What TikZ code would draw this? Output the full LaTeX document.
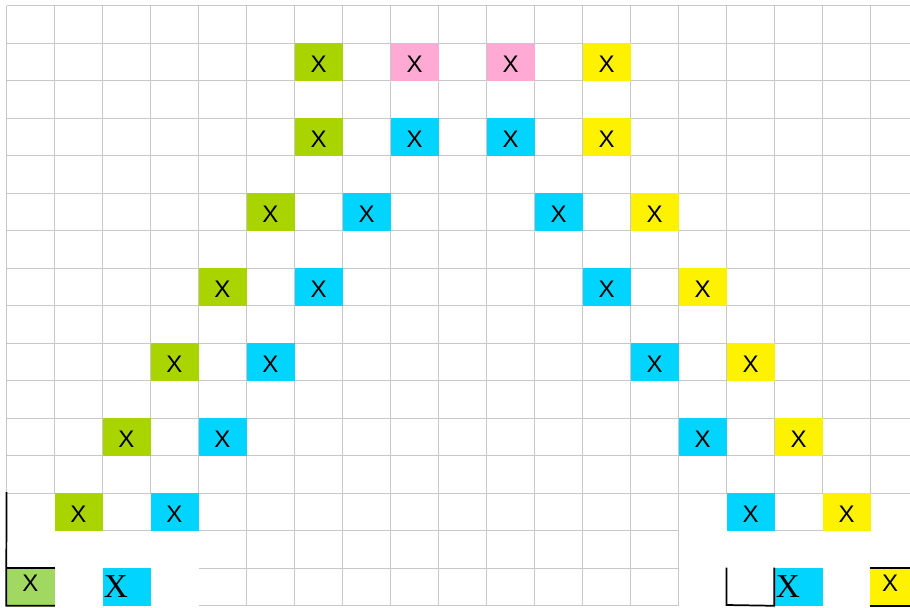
\documentclass[tikz,border=0pt]{standalone}
\usepackage{fontspec}
\setmainfont{Liberation Sans}
\newfontfamily\serifx{Liberation Serif}
\usetikzlibrary{positioning}
\definecolor{armgreen}{RGB}{170,212,0}
\definecolor{basegreen}{RGB}{160,216,98}
\definecolor{armcyan}{RGB}{0,212,255}
\definecolor{armyellow}{RGB}{255,242,0}
\definecolor{toppink}{RGB}{255,170,213}
\definecolor{gridgray}{RGB}{200,200,200}
\tikzset{
  xcell/.style={
    rectangle,
    minimum width=36pt,
    minimum height=28.125pt,
    inner sep=0pt,
    text height=15.5pt,
    text depth=0pt,
    font=\fontsize{18}{18}\selectfont
  },
  green cell/.style={xcell, fill=armgreen},
  cyan cell/.style={xcell, fill=armcyan},
  yellow cell/.style={xcell, fill=armyellow},
  pink cell/.style={xcell, fill=toppink},
  base cell/.style={
    xcell,
    text height=12.9pt,
    text depth=5.4pt
  },
  serif cell/.style={
    xcell,
    fill=armcyan,
    text width=34pt,
    align=left,
    text height=16.5pt,
    font=\serifx\fontsize{25}{25}\selectfont
  },
  grid line/.style={draw=gridgray, line width=0.75pt},
  border line/.style={draw=black, line width=1.3pt}
}

\begin{document}
\begin{tikzpicture}[x=0.75pt, y=-0.75pt]
  \useasboundingbox (0,0) rectangle (910,607);

  % Grid
  \foreach \r in {0,...,13}
    \draw[grid line] (6.5,5.5+37.5*\r) -- (910,5.5+37.5*\r);
  \foreach \c in {0,...,18}
    \draw[grid line] (6.5+48*\c,5.5) -- (6.5+48*\c,493);
  \foreach \r in {14,15,16}
    \draw[grid line] (198.5,5.5+37.5*\r) -- (679,5.5+37.5*\r);
  \foreach \c in {5,...,14}
    \draw[grid line] (6.5+48*\c,493) -- (6.5+48*\c,605.5);
  \draw[grid line] (102.5,530.5) -- (150.5,530.5);
  \draw[grid line] (774.5,530.5) -- (822.5,530.5);

  % Top row
  \node[green cell] (g1) at (318.5,61.75) {X};
  \node[pink cell] (p1) at (414.5,61.75) {X};
  \node[pink cell] (p2) at (510.5,61.75) {X};
  \node[yellow cell] (y1) at (606.5,61.75) {X};

  % Green arm
  \node[green cell] (g2) at (318.5,136.75) {X};
  \node[green cell] (g3) at (270.5,211.75) {X};
  \node[green cell] (g4) at (222.5,286.75) {X};
  \node[green cell] (g5) at (174.5,361.75) {X};
  \node[green cell] (g6) at (126.5,436.75) {X};
  \node[green cell] (g7) at (78.5,511.75) {X};
  \node[base cell, fill=basegreen] (g0) at (30.5,586.75) {X};

  % Inner cyan, left
  \node[cyan cell] (cl1) at (414.5,136.75) {X};
  \node[cyan cell] (cl2) at (366.5,211.75) {X};
  \node[cyan cell] (cl3) at (318.5,286.75) {X};
  \node[cyan cell] (cl4) at (270.5,361.75) {X};
  \node[cyan cell] (cl5) at (222.5,436.75) {X};
  \node[cyan cell] (cl6) at (174.5,511.75) {X};
  \node[serif cell] (cl7) at (126.5,586.75) {X};

  % Inner cyan, right
  \node[cyan cell] (cr1) at (510.5,136.75) {X};
  \node[cyan cell] (cr2) at (558.5,211.75) {X};
  \node[cyan cell] (cr3) at (606.5,286.75) {X};
  \node[cyan cell] (cr4) at (654.5,361.75) {X};
  \node[cyan cell] (cr5) at (702.5,436.75) {X};
  \node[cyan cell] (cr6) at (750.5,511.75) {X};
  \node[serif cell] (cr7) at (798.5,586.75) {X};

  % Yellow arm
  \node[yellow cell] (y2) at (606.5,136.75) {X};
  \node[yellow cell] (y3) at (654.5,211.75) {X};
  \node[yellow cell] (y4) at (702.5,286.75) {X};
  \node[yellow cell] (y5) at (750.5,361.75) {X};
  \node[yellow cell] (y6) at (798.5,436.75) {X};
  \node[yellow cell] (y7) at (846.5,511.75) {X};
  \node[base cell, fill=armyellow, minimum width=30pt] (y0) at (890,586.75) {X};

  % Black borders
  \coordinate (lefttop) at (6.5,492);
  \draw[border line] (lefttop) -- (g0.south west) -- (g0.south east);
  \draw[border line] (g0.north west) -- (g0.north east);
  \coordinate (ua) at (726.5,567.5);
  \coordinate (ub) at (726.5,605);
  \draw[border line] (ua) -- (ub) -- (cr7.south west) -- (cr7.north west);
  \draw[border line] (y0.north west) -- (y0.north east);
  \draw[border line] (y0.south west) -- (y0.south east);

\end{tikzpicture}
\end{document}
